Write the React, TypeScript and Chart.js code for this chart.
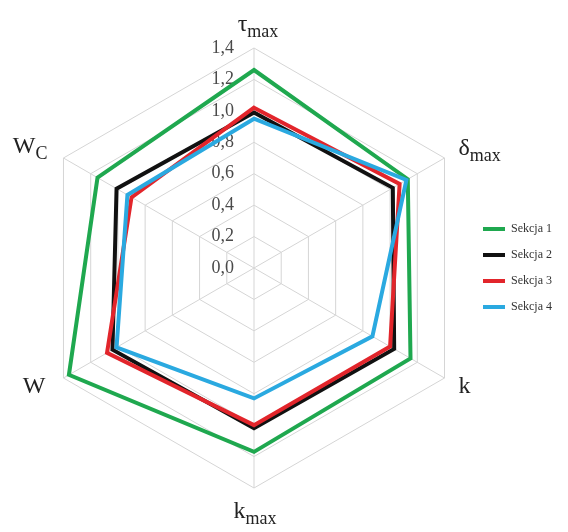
import React, { useEffect, useRef } from 'react';
import { Chart, registerables } from 'chart.js';

Chart.register(...registerables);

const CATEGORIES = ['τmax', 'δmax', 'k', 'kmax', 'W', 'WC'];
const AXIS_MAIN = ['τ', 'δ', 'k', 'k', 'W', 'W'];
const AXIS_SUB = ['max', 'max', '', 'max', '', 'C'];
const SERIES_NAMES = ['Sekcja 1', 'Sekcja 2', 'Sekcja 3', 'Sekcja 4'];
const SEKCJA_1 = [1.26, 1.13, 1.15, 1.17, 1.36, 1.15];
const SEKCJA_2 = [0.99, 1.02, 1.03, 1.02, 1.04, 1.01];
const SEKCJA_3 = [1.02, 1.07, 1.0, 1.0, 1.08, 0.9];
const SEKCJA_4 = [0.95, 1.12, 0.87, 0.83, 1.01, 0.93];
const TICK_VALUES = [0, 0.2, 0.4, 0.6, 0.8, 1.0, 1.2, 1.4];
const TICK_LABELS = ['0,0', '0,2', '0,4', '0,6', '0,8', '1,0', '1,2', '1,4'];
const COLORS = ['#1fa84f', '#111111', '#e2252b', '#2aa9e0'];

const SERIF = '"Liberation Serif", "Times New Roman", serif';

// label placement relative to each axis end: [align, dx, dy(baseline)]
const LABEL_PLACE: [CanvasTextAlign, number, number][] = [
  ['center', 4, -17],
  ['left', 14, -3],
  ['left', 14, 15],
  ['center', 1, 30],
  ['right', -18, 15],
  ['right', -16, -5],
];

const tickPlugin = {
  id: 'tickLabels',
  beforeDatasetsDraw(chart: any) {
    const s = chart.scales.r;
    const ctx = chart.ctx;
    ctx.save();
    ctx.font = `18px ${SERIF}`;
    ctx.fillStyle = '#4a4a4a';
    ctx.textAlign = 'right';
    ctx.textBaseline = 'middle';
    TICK_VALUES.forEach((v, i) => {
      const d = s.getDistanceFromCenterForValue(v);
      ctx.fillText(TICK_LABELS[i], s.xCenter - 20, s.yCenter - d);
    });
    ctx.restore();
  },
};

const axisLabelPlugin = {
  id: 'axisLabels',
  afterDraw(chart: any) {
    const s = chart.scales.r;
    const ctx = chart.ctx;
    ctx.save();
    ctx.fillStyle = '#222';
    ctx.textBaseline = 'alphabetic';
    ctx.textAlign = 'left';
    const mainFont = `24px ${SERIF}`;
    const subFont = `18px ${SERIF}`;
    CATEGORIES.forEach((_, i) => {
      const p = s.getPointPosition(i, s.drawingArea);
      const [align, dx, dy] = LABEL_PLACE[i];
      const main = AXIS_MAIN[i];
      const sub = AXIS_SUB[i];
      ctx.font = mainFont;
      const wm = ctx.measureText(main).width;
      ctx.font = subFont;
      const ws = sub ? ctx.measureText(sub).width : 0;
      const total = wm + ws;
      let x = p.x + dx;
      if (align === 'center') x -= total / 2;
      else if (align === 'right') x -= total;
      const y = p.y + dy;
      ctx.font = mainFont;
      ctx.fillText(main, x, y);
      if (sub) {
        ctx.font = subFont;
        ctx.fillText(sub, x + wm, y + 6);
      }
    });
    ctx.restore();
  },
};

const legendShiftPlugin = {
  id: 'legendShift',
  afterLayout(chart: any) {
    const lg = chart.legend;
    if (lg) {
      lg.left -= 6;
      lg.right -= 6;
    }
  },
};

export default function App() {
  const ref = useRef<HTMLCanvasElement>(null);

  useEffect(() => {
    if (!ref.current) return;
    const series = [SEKCJA_1, SEKCJA_2, SEKCJA_3, SEKCJA_4];
    const chart = new Chart(ref.current, {
      type: 'radar',
      data: {
        labels: CATEGORIES,
        datasets: series.map((d, i) => ({
          label: SERIES_NAMES[i],
          data: d,
          borderColor: COLORS[i],
          backgroundColor: COLORS[i],
          borderWidth: 4,
          fill: false,
          pointRadius: 0,
          pointHoverRadius: 0,
          tension: 0,
          borderJoinStyle: 'miter' as const,
          order: 3 - i,
        })),
      },
      options: {
        responsive: false,
        animation: false,
        devicePixelRatio: 1,
        layout: { padding: { left: 34, top: 48, bottom: 44, right: 0 } },
        plugins: {
          tooltip: { enabled: false },
          legend: {
            position: 'right',
            maxWidth: 94,
            labels: {
              boxWidth: 22,
              boxHeight: 4,
              padding: 14,
              color: '#333',
              font: { family: SERIF, size: 12 },
              generateLabels: (c: any) =>
                c.data.datasets.map((ds: any, i: number) => ({
                  text: ds.label,
                  fillStyle: ds.borderColor,
                  strokeStyle: ds.borderColor,
                  lineWidth: 0,
                  hidden: false,
                  datasetIndex: i,
                  fontColor: '#333',
                })),
            },
          },
        },
        scales: {
          r: {
            min: 0,
            max: 1.4,
            ticks: { display: false, stepSize: 0.2 },
            grid: { color: '#d5d5d5', lineWidth: 1 },
            angleLines: { color: '#d5d5d5', lineWidth: 1 },
            pointLabels: { display: false },
          },
        },
      },
      plugins: [tickPlugin, axisLabelPlugin, legendShiftPlugin],
    });
    return () => chart.destroy();
  }, []);

  return (
    <div style={{ position: 'absolute', left: 0, top: 0, width: 568, height: 532, background: '#fff' }}>
      <canvas ref={ref} width={568} height={532} style={{ display: 'block' }} />
    </div>
  );
}
